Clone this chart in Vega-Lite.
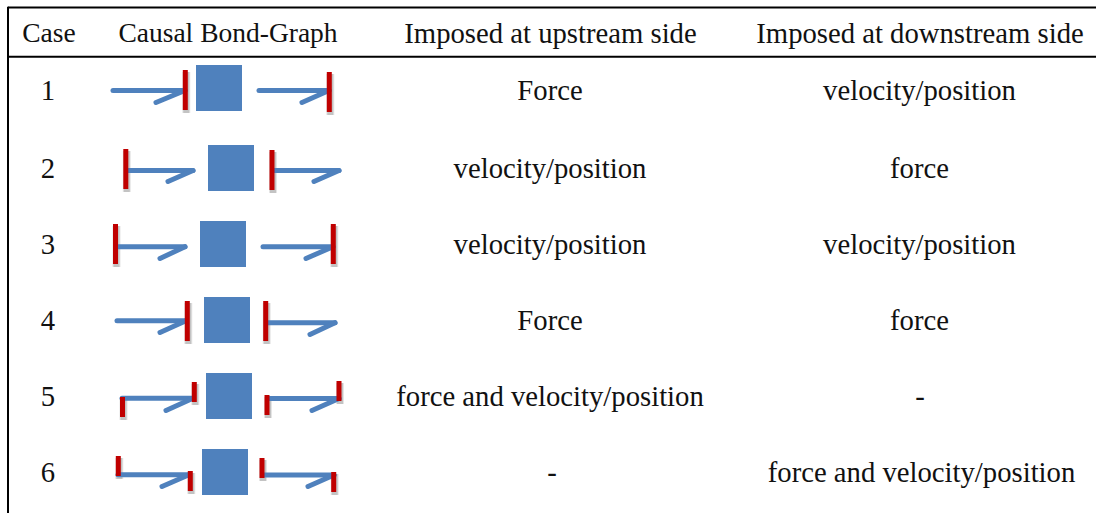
{"$schema":"https://vega.github.io/schema/vega-lite/v6.json","width":1096,"height":513,"padding":0,"autosize":{"type":"none"},"background":"white","config":{"view":{"stroke":null}},
"datasets":{
"frame":[{"x":8,"y":7.5,"x2":1096,"y2":7.5},{"x":8,"y":56.7,"x2":1096,"y2":56.7},{"x":8,"y":6.7,"x2":8,"y2":513}],
"squares":[{"case":1,"x":196,"x2":242,"y":65,"y2":111},{"case":2,"x":208,"x2":254,"y":145,"y2":191},{"case":3,"x":200,"x2":246,"y":221,"y2":267},{"case":4,"x":204,"x2":250,"y":297,"y2":343},{"case":5,"x":206,"x2":252,"y":373,"y2":419},{"case":6,"x":202,"x2":248,"y":449,"y2":495}],
"bonds":[
{"case":1,"x":113,"y":90.5,"x2":185,"y2":90.5},{"case":1,"x":156,"y":102.5,"x2":185,"y2":90.5},{"case":1,"x":259,"y":90.5,"x2":329,"y2":90.5},{"case":1,"x":302,"y":102.5,"x2":329,"y2":90.5},
{"case":2,"x":128,"y":170.5,"x2":193,"y2":170.5},{"case":2,"x":168,"y":181.5,"x2":193,"y2":170.5},{"case":2,"x":274,"y":170.5,"x2":339,"y2":170.5},{"case":2,"x":314,"y":181.5,"x2":339,"y2":170.5},
{"case":3,"x":118,"y":246.7,"x2":185,"y2":246.7},{"case":3,"x":160,"y":258.5,"x2":185,"y2":246.7},{"case":3,"x":263,"y":246.7,"x2":333,"y2":246.7},{"case":3,"x":306,"y":258.5,"x2":333,"y2":246.7},
{"case":4,"x":117,"y":320.7,"x2":186,"y2":320.7},{"case":4,"x":160,"y":332.5,"x2":186,"y2":320.7},{"case":4,"x":267,"y":322.7,"x2":335,"y2":322.7},{"case":4,"x":310,"y":334.5,"x2":335,"y2":322.7},
{"case":5,"x":122,"y":398.3,"x2":193,"y2":398.3},{"case":5,"x":166,"y":410.5,"x2":193,"y2":398.3},{"case":5,"x":269,"y":398.5,"x2":339,"y2":398.5},{"case":5,"x":312,"y":410.5,"x2":339,"y2":398.5},
{"case":6,"x":118,"y":474.7,"x2":189,"y2":474.7},{"case":6,"x":162,"y":486.5,"x2":189,"y2":474.7},{"case":6,"x":263,"y":475,"x2":334,"y2":475},{"case":6,"x":308,"y":486.5,"x2":334,"y2":475}],
"stops":[
{"case":1,"x":185.3,"x2":185.3,"y":70,"y2":110},{"case":1,"x":329.3,"x2":329.3,"y":72,"y2":112},
{"case":2,"x":125.8,"x2":125.8,"y":149,"y2":189},{"case":2,"x":272,"x2":272,"y":150,"y2":190},
{"case":3,"x":115.5,"x2":115.5,"y":224,"y2":264},{"case":3,"x":333.3,"x2":333.3,"y":224,"y2":264},
{"case":4,"x":187.3,"x2":187.3,"y":301,"y2":341},{"case":4,"x":265.7,"x2":265.7,"y":301,"y2":341},
{"case":5,"x":122.5,"x2":122.5,"y":397,"y2":417},{"case":5,"x":194.3,"x2":194.3,"y":382,"y2":402},{"case":5,"x":267,"x2":267,"y":395,"y2":415},{"case":5,"x":339,"x2":339,"y":381,"y2":401},
{"case":6,"x":118.3,"x2":118.3,"y":456,"y2":476},{"case":6,"x":190.3,"x2":190.3,"y":471,"y2":491},{"case":6,"x":262,"x2":262,"y":458,"y2":478},{"case":6,"x":333.7,"x2":333.7,"y":472,"y2":492}],
"shadows":[
{"case":1,"x":186.3,"x2":186.3,"y":72,"y2":113},{"case":1,"x":330.3,"x2":330.3,"y":74,"y2":115},
{"case":2,"x":126.8,"x2":126.8,"y":151,"y2":192},{"case":2,"x":273,"x2":273,"y":152,"y2":193},
{"case":3,"x":116.5,"x2":116.5,"y":226,"y2":267},{"case":3,"x":334.3,"x2":334.3,"y":226,"y2":267},
{"case":4,"x":188.3,"x2":188.3,"y":303,"y2":344},{"case":4,"x":266.7,"x2":266.7,"y":303,"y2":344},
{"case":5,"x":123.5,"x2":123.5,"y":399,"y2":420},{"case":5,"x":195.3,"x2":195.3,"y":384,"y2":405},{"case":5,"x":268,"x2":268,"y":397,"y2":418},{"case":5,"x":340,"x2":340,"y":383,"y2":404},
{"case":6,"x":119.3,"x2":119.3,"y":458,"y2":479},{"case":6,"x":191.3,"x2":191.3,"y":473,"y2":494},{"case":6,"x":263,"x2":263,"y":460,"y2":481},{"case":6,"x":334.7,"x2":334.7,"y":474,"y2":495}],
"headersShort":[{"x":49,"y":33,"label":"Case"},{"x":228,"y":33,"label":"Causal Bond-Graph"}],
"cells":[
{"x":550.5,"y":33,"label":"Imposed at upstream side"},{"x":920,"y":33,"label":"Imposed at downstream side"},
{"x":48,"y":90,"label":"1"},{"x":550,"y":90,"label":"Force"},{"x":919.5,"y":90,"label":"velocity/position"},
{"x":48,"y":168,"label":"2"},{"x":550,"y":168,"label":"velocity/position"},{"x":919.5,"y":168,"label":"force"},
{"x":48,"y":244,"label":"3"},{"x":550,"y":244,"label":"velocity/position"},{"x":919.5,"y":244,"label":"velocity/position"},
{"x":48,"y":320,"label":"4"},{"x":550,"y":320,"label":"Force"},{"x":919.5,"y":320,"label":"force"},
{"x":48,"y":396,"label":"5"},{"x":550,"y":396,"label":"force and velocity/position"},{"x":920,"y":396,"label":"-"},
{"x":48,"y":472,"label":"6"},{"x":552,"y":472,"label":"-"},{"x":921.5,"y":472,"label":"force and velocity/position"}]},
"encoding":{"x":{"field":"x","type":"quantitative","scale":{"domain":[0,1096],"nice":false,"zero":false},"axis":null},"y":{"field":"y","type":"quantitative","scale":{"domain":[513,0],"nice":false,"zero":false},"axis":null}},
"layer":[
{"data":{"name":"frame"},"mark":{"type":"rule","color":"#000000","strokeWidth":2},"encoding":{"x2":{"field":"x2"},"y2":{"field":"y2"}}},
{"data":{"name":"squares"},"mark":{"type":"rect","color":"#4F81BD"},"encoding":{"x2":{"field":"x2"},"y2":{"field":"y2"}}},
{"data":{"name":"shadows"},"mark":{"type":"rule","color":"#000000","opacity":0.1,"strokeWidth":8},"encoding":{"x2":{"field":"x2"},"y2":{"field":"y2"}}},
{"data":{"name":"shadows"},"mark":{"type":"rule","color":"#000000","opacity":0.15,"strokeWidth":6},"encoding":{"x2":{"field":"x2"},"y2":{"field":"y2"}}},
{"data":{"name":"bonds"},"mark":{"type":"rule","color":"#4F81BD","strokeWidth":5,"strokeCap":"round"},"encoding":{"x2":{"field":"x2"},"y2":{"field":"y2"}}},
{"data":{"name":"stops"},"mark":{"type":"rule","color":"#C00000","strokeWidth":5},"encoding":{"x2":{"field":"x2"},"y2":{"field":"y2"}}},
{"data":{"name":"cells"},"mark":{"type":"text","font":"Liberation Serif","fontSize":28.7,"color":"#111111","align":"center","baseline":"middle","dy":1},"encoding":{"text":{"field":"label"}}},
{"data":{"name":"headersShort"},"mark":{"type":"text","font":"Liberation Serif","fontSize":27.5,"color":"#111111","align":"center","baseline":"middle","dy":1},"encoding":{"text":{"field":"label"}}}
]}
